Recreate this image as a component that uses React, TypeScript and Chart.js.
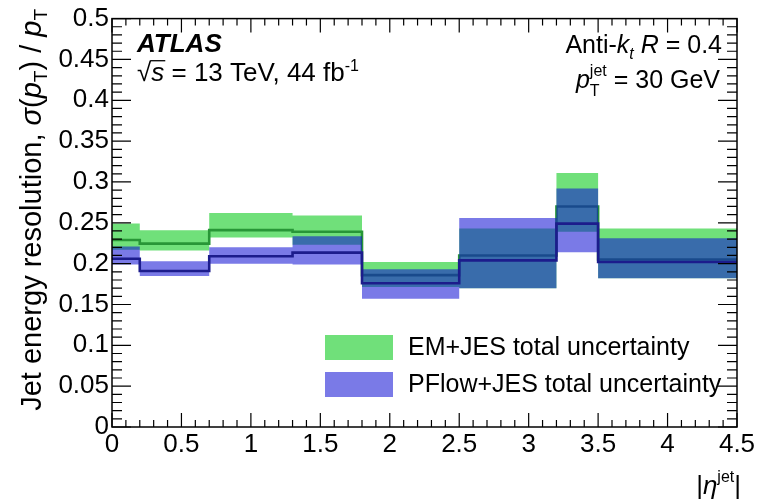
import React, { useEffect, useRef } from "react";
import { Chart, registerables } from "chart.js";

Chart.register(...registerables);

// |eta| bin edges and per-bin resolution values
const binEdges = [0, 0.2, 0.7, 1.3, 1.8, 2.5, 3.2, 3.5, 4.5];

const emCentral = [0.229, 0.2245, 0.241, 0.239, 0.186, 0.21, 0.27, 0.205];
const emLow = [0.217, 0.216, 0.232, 0.223, 0.1715, 0.17, 0.239, 0.182];
const emHigh = [0.249, 0.241, 0.262, 0.259, 0.202, 0.243, 0.311, 0.243];

const pfCentral = [0.206, 0.191, 0.209, 0.2135, 0.176, 0.204, 0.249, 0.202];
const pfLow = [0.199, 0.185, 0.2, 0.199, 0.157, 0.17, 0.214, 0.182];
const pfHigh = [0.221, 0.203, 0.22, 0.2335, 0.193, 0.256, 0.292, 0.231];

const legendLabels = ["EM+JES total uncertainty", "PFlow+JES total uncertainty"];

const X_MIN = 0;
const X_MAX = 4.5;
const Y_MIN = 0;
const Y_MAX = 0.5;

const GREEN_FILL = "rgb(112, 224, 122)";
const GREEN_LINE = "rgb(40, 150, 55)";
const BLUE_FILL = "rgba(12, 12, 212, 0.55)";
const BLUE_LINE = "rgb(28, 28, 140)";

const FONT = '"Liberation Sans", Arial, Helvetica, sans-serif';

function stepPoints(values: number[]) {
  const pts = values.map((v, i) => ({ x: binEdges[i], y: v }));
  pts.push({ x: binEdges[binEdges.length - 1], y: values[values.length - 1] });
  return pts;
}

type Run = {
  t: string;
  it?: boolean;
  b?: boolean;
  s?: number;
  dy?: number;
  stack?: boolean;
  overline?: boolean;
};

function runFont(r: Run, base: number) {
  return `${r.it ? "italic " : ""}${r.b ? "bold " : ""}${Math.round((r.s ?? 1) * base)}px ${FONT}`;
}

function layoutRuns(ctx: CanvasRenderingContext2D, runs: Run[], base: number) {
  let x = 0;
  let prevStart = 0;
  let end = 0;
  const placed: { r: Run; x: number; w: number }[] = [];
  for (const r of runs) {
    ctx.font = runFont(r, base);
    const w = ctx.measureText(r.t).width;
    const start = r.stack ? prevStart : x;
    placed.push({ r, x: start, w });
    end = Math.max(end, start + w);
    prevStart = start;
    x = end;
  }
  return { placed, width: end };
}

function drawRuns(
  ctx: CanvasRenderingContext2D,
  runs: Run[],
  x: number,
  y: number,
  base: number,
  align: "left" | "right"
) {
  const { placed, width } = layoutRuns(ctx, runs, base);
  const x0 = align === "right" ? x - width : x;
  ctx.textAlign = "left";
  ctx.textBaseline = "alphabetic";
  for (const p of placed) {
    ctx.font = runFont(p.r, base);
    const yy = y + (p.r.dy ?? 0);
    ctx.fillText(p.r.t, x0 + p.x, yy);
    if (p.r.overline) {
      ctx.save();
      ctx.lineWidth = 1.3;
      ctx.beginPath();
      ctx.moveTo(x0 + p.x - 1, yy - base * 0.78);
      ctx.lineTo(x0 + p.x + p.w + 1, yy - base * 0.78);
      ctx.stroke();
      ctx.restore();
    }
  }
}

const decorations = {
  id: "decorations",
  afterDatasetsDraw(chart: any) {
    const { ctx, chartArea: a, scales } = chart;
    const xs = scales.x;
    const ys = scales.y;
    ctx.save();
    ctx.strokeStyle = "#000";
    ctx.fillStyle = "#000";

    // frame
    ctx.lineWidth = 1.5;
    ctx.strokeRect(a.left, a.top, a.right - a.left, a.bottom - a.top);

    // inward ticks on all four sides
    ctx.lineWidth = 1.2;
    ctx.beginPath();
    for (let i = 0; i <= 45; i++) {
      const px = xs.getPixelForValue(i / 10);
      const len = i % 5 === 0 ? 14 : 7;
      ctx.moveTo(px, a.bottom);
      ctx.lineTo(px, a.bottom - len);
      ctx.moveTo(px, a.top);
      ctx.lineTo(px, a.top + len);
    }
    for (let i = 0; i <= 50; i++) {
      const py = ys.getPixelForValue(i / 100);
      const len = i % 5 === 0 ? 19 : 10;
      ctx.moveTo(a.left, py);
      ctx.lineTo(a.left + len, py);
      ctx.moveTo(a.right, py);
      ctx.lineTo(a.right - len, py);
    }
    ctx.stroke();

    // legend
    const fills = [GREEN_FILL, BLUE_FILL];
    legendLabels.forEach((label, i) => {
      const top = 335 + i * 37;
      ctx.fillStyle = fills[i];
      ctx.fillRect(325, top, 68, 25);
      ctx.fillStyle = "#000";
      ctx.font = `25px ${FONT}`;
      ctx.textAlign = "left";
      ctx.textBaseline = "middle";
      ctx.fillText(label, 408, top + 13);
    });

    ctx.fillStyle = "#000";
    // experiment labels
    drawRuns(ctx, [{ t: "ATLAS", b: true, it: true }], 137, 52, 26, "left");
    drawRuns(
      ctx,
      [
        { t: "\u221A" },
        { t: "s", it: true, overline: true },
        { t: " = 13 TeV, 44 fb" },
        { t: "-1", s: 0.62, dy: -10 },
      ],
      137,
      81,
      26,
      "left"
    );
    drawRuns(
      ctx,
      [
        { t: "Anti-" },
        { t: "k", it: true },
        { t: "t", it: true, s: 0.65, dy: 6 },
        { t: " " },
        { t: "R", it: true },
        { t: " = 0.4" },
      ],
      722,
      53,
      25,
      "right"
    );
    drawRuns(
      ctx,
      [
        { t: "p", it: true },
        { t: "jet", s: 0.62, dy: -12 },
        { t: "T", s: 0.62, dy: 8, stack: true },
        { t: " = 30 GeV" },
      ],
      720,
      88,
      25,
      "right"
    );

    // x-axis title
    drawRuns(
      ctx,
      [
        { t: "|" },
        { t: "\u03B7", it: true },
        { t: "jet", s: 0.62, dy: -12 },
        { t: "|" },
      ],
      741,
      494,
      26,
      "right"
    );

    // y-axis title, rotated, ending at the top of the axis
    ctx.save();
    ctx.translate(41, 9);
    ctx.rotate(-Math.PI / 2);
    drawRuns(
      ctx,
      [
        { t: "Jet energy resolution, " },
        { t: "\u03C3", it: true },
        { t: "(" },
        { t: "p", it: true },
        { t: "T", s: 0.65, dy: 6 },
        { t: ") / " },
        { t: "p", it: true },
        { t: "T", s: 0.65, dy: 6 },
      ],
      0,
      0,
      29,
      "right"
    );
    ctx.restore();

    ctx.restore();
  },
};

function tickText(v: number) {
  return String(Number(v.toFixed(2)));
}

export default function App() {
  const canvasRef = useRef<HTMLCanvasElement | null>(null);

  useEffect(() => {
    document.body.style.margin = "0";
    document.body.style.overflow = "hidden";
    const canvas = canvasRef.current;
    if (!canvas) return;

    // stepped "before": each bin keeps its left-edge value up to the next edge
    const band = (data: number[], color: string, order: number, fill: any) => ({
      data: stepPoints(data),
      stepped: "before" as const,
      borderWidth: 0,
      borderColor: "rgba(0,0,0,0)",
      backgroundColor: color,
      pointRadius: 0,
      fill,
      order,
    });
    const central = (data: number[], color: string, order: number) => ({
      data: stepPoints(data),
      stepped: "before" as const,
      borderWidth: 2.6,
      borderColor: color,
      backgroundColor: color,
      pointRadius: 0,
      fill: false,
      order,
    });

    const chart = new Chart(canvas, {
      type: "line",
      data: {
        datasets: [
          band(emLow, GREEN_FILL, 6, false),
          band(emHigh, GREEN_FILL, 5, "-1"),
          central(emCentral, GREEN_LINE, 4),
          band(pfLow, BLUE_FILL, 3, false),
          band(pfHigh, BLUE_FILL, 2, "-1"),
          central(pfCentral, BLUE_LINE, 1),
        ],
      },
      options: {
        animation: false,
        responsive: false,
        maintainAspectRatio: false,
        devicePixelRatio: 1,
        layout: { padding: { left: 0, right: 24, top: 18, bottom: 0 } },
        plugins: {
          legend: { display: false },
          tooltip: { enabled: false },
        },
        scales: {
          x: {
            type: "linear",
            min: X_MIN,
            max: X_MAX,
            grid: { display: false, drawTicks: false },
            border: { display: false },
            ticks: {
              stepSize: 0.5,
              padding: 2,
              color: "#000",
              font: { family: FONT, size: 26 },
              maxRotation: 0,
              autoSkip: false,
              callback: (v: any) => tickText(Number(v)),
            },
            afterFit: (s: any) => {
              s.height = 74;
            },
          },
          y: {
            type: "linear",
            min: Y_MIN,
            max: Y_MAX,
            grid: { display: false, drawTicks: false },
            border: { display: false },
            ticks: {
              stepSize: 0.05,
              padding: 3,
              color: "#000",
              font: { family: FONT, size: 26 },
              autoSkip: false,
              callback: (v: any) => tickText(Number(v)),
            },
            afterFit: (s: any) => {
              s.width = 112;
            },
          },
        },
      },
      plugins: [decorations],
    });

    return () => chart.destroy();
  }, []);

  return (
    <div style={{ width: 761, height: 501, background: "#fff" }}>
      <canvas ref={canvasRef} width={761} height={501} style={{ display: "block" }} />
    </div>
  );
}
